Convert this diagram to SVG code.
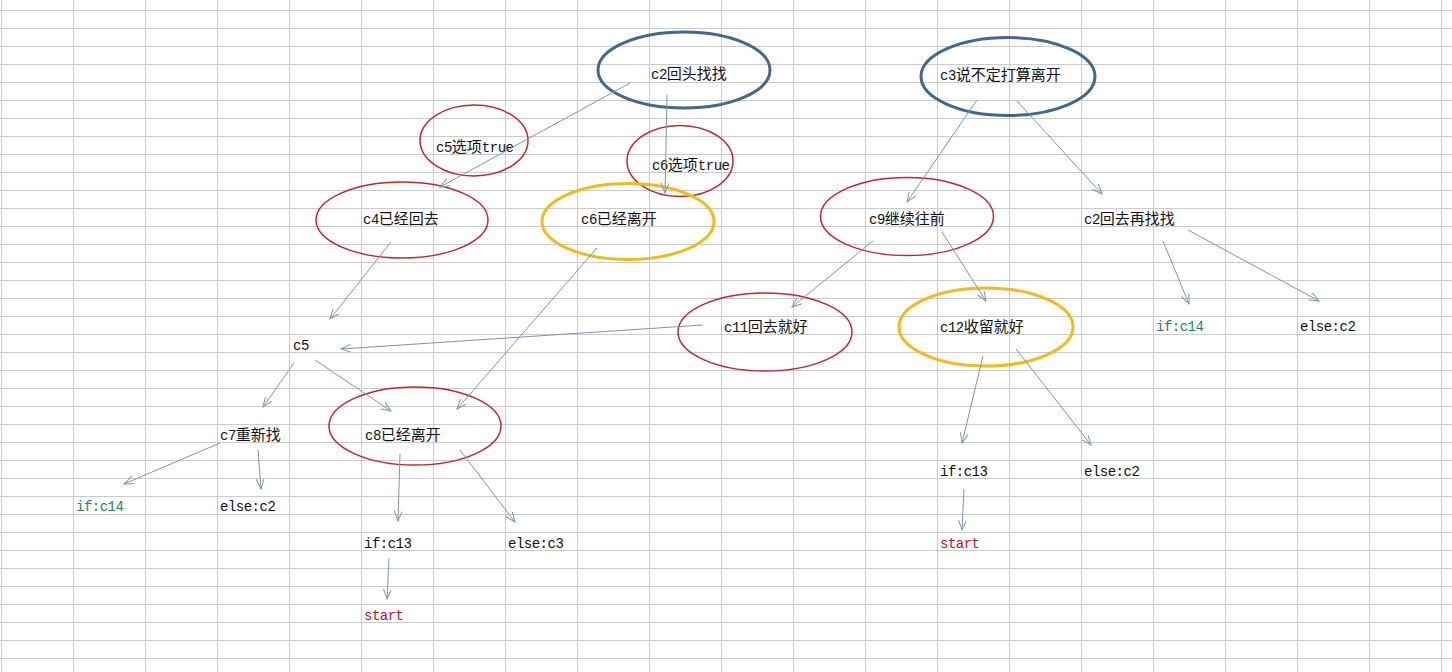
<svg xmlns="http://www.w3.org/2000/svg" width="1452" height="672" viewBox="0 0 1452 672">
<style>
.grid{stroke:#c9ccd1;stroke-width:1;fill:none}
.blue{fill:none;stroke:#44678c;stroke-width:3}
.red{fill:none;stroke:#c1272d;stroke-width:1.5}
.gold{fill:none;stroke:#f2bb1a;stroke-width:3}
.t{font-family:"Noto Sans CJK SC","Noto Sans",sans-serif;font-size:15px;fill:#111}
.m{font-family:"Liberation Mono",monospace;font-size:14px;letter-spacing:-0.5px}
.g{fill:#21875a}
.r{fill:#b3132d}
.c line{stroke:#7d96b0;stroke-width:1;marker-end:url(#ah)}
</style>
<defs>
<marker id="ah" markerUnits="userSpaceOnUse" markerWidth="12" markerHeight="10" refX="10" refY="4" orient="auto">
<path d="M0,0 L10,4 L0,8" fill="none" stroke="#7d96b0" stroke-width="1"/>
</marker>
</defs>
<rect width="1452" height="672" fill="#ffffff"/>
<g id="grid" class="grid">
<path d="M1.5,0V672M73.5,0V672M145.5,0V672M217.5,0V672M289.5,0V672M361.5,0V672M433.5,0V672M505.5,0V672M577.5,0V672M649.5,0V672M721.5,0V672M793.5,0V672M865.5,0V672M937.5,0V672M1009.5,0V672M1081.5,0V672M1153.5,0V672M1225.5,0V672M1297.5,0V672M1369.5,0V672M1441.5,0V672"/>
<path d="M0,10.5H1452M0,28.5H1452M0,46.5H1452M0,64.5H1452M0,82.5H1452M0,100.5H1452M0,118.5H1452M0,136.5H1452M0,154.5H1452M0,172.5H1452M0,190.5H1452M0,208.5H1452M0,226.5H1452M0,244.5H1452M0,262.5H1452M0,280.5H1452M0,298.5H1452M0,316.5H1452M0,334.5H1452M0,352.5H1452M0,370.5H1452M0,388.5H1452M0,406.5H1452M0,424.5H1452M0,442.5H1452M0,460.5H1452M0,478.5H1452M0,496.5H1452M0,514.5H1452M0,532.5H1452M0,550.5H1452M0,568.5H1452M0,586.5H1452M0,604.5H1452M0,622.5H1452M0,640.5H1452M0,658.5H1452"/>
</g>
<g id="n_c2">
<ellipse class="blue" cx="684" cy="70" rx="86" ry="38"/>
<text class="t" x="651" y="79"><tspan class="m">c2</tspan>回头找找</text>
</g>
<g id="n_c5opt">
<ellipse class="red" cx="474" cy="140.5" rx="54" ry="35.5"/>
<text class="t" x="436" y="152"><tspan class="m">c5</tspan>选项<tspan class="m">true</tspan></text>
</g>
<g id="n_c6opt">
<ellipse class="red" cx="680" cy="161" rx="53" ry="35.5"/>
<text class="t" x="652" y="170"><tspan class="m">c6</tspan>选项<tspan class="m">true</tspan></text>
</g>
<g id="n_c4">
<ellipse class="red" cx="402" cy="220" rx="86" ry="38"/>
<text class="t" x="363" y="224"><tspan class="m">c4</tspan>已经回去</text>
</g>
<g id="n_c6">
<ellipse class="gold" cx="628" cy="221.5" rx="86" ry="38"/>
<text class="t" x="581" y="224"><tspan class="m">c6</tspan>已经离开</text>
</g>
<g id="n_c3">
<ellipse class="blue" cx="1008" cy="76.5" rx="87" ry="39"/>
<text class="t" x="940" y="80"><tspan class="m">c3</tspan>说不定打算离开</text>
</g>
<g id="n_c9">
<ellipse class="red" cx="907" cy="216.5" rx="86.5" ry="39"/>
<text class="t" x="869" y="224"><tspan class="m">c9</tspan>继续往前</text>
</g>
<g id="n_c2b">
<text class="t" x="1084" y="224"><tspan class="m">c2</tspan>回去再找找</text>
</g>
<g id="n_c11">
<ellipse class="red" cx="765" cy="332" rx="87" ry="39"/>
<text class="t" x="724" y="332"><tspan class="m">c11</tspan>回去就好</text>
</g>
<g id="n_c12">
<ellipse class="gold" cx="986" cy="327" rx="87" ry="39"/>
<text class="t" x="940" y="332"><tspan class="m">c12</tspan>收留就好</text>
</g>
<g id="n_c8">
<ellipse class="red" cx="415" cy="426" rx="86" ry="39"/>
<text class="t" x="365" y="440"><tspan class="m">c8</tspan>已经离开</text>
</g>
<g id="n_c5">
<text class="t m" x="293" y="350">c5</text>
</g>
<g id="n_c7">
<text class="t" x="220" y="440"><tspan class="m">c7</tspan>重新找</text>
</g>
<g id="n_if14a"><text class="t m g" x="76" y="511">if:c14</text></g>
<g id="n_else2a"><text class="t m" x="220" y="511">else:c2</text></g>
<g id="n_if13a"><text class="t m" x="364" y="548">if:c13</text></g>
<g id="n_else3"><text class="t m" x="508" y="548">else:c3</text></g>
<g id="n_starta"><text class="t m r" x="364" y="620">start</text></g>
<g id="n_if14b"><text class="t m g" x="1156" y="331">if:c14</text></g>
<g id="n_else2b"><text class="t m" x="1300" y="331">else:c2</text></g>
<g id="n_if13b"><text class="t m" x="940" y="476">if:c13</text></g>
<g id="n_else2c"><text class="t m" x="1084" y="476">else:c2</text></g>
<g id="n_startb"><text class="t m r" x="940" y="548">start</text></g>
<g id="connectors" class="c">
<line x1="630" y1="83" x2="440" y2="187"/>
<line x1="667" y1="95" x2="665" y2="193"/>
<line x1="391" y1="242" x2="330" y2="319"/>
<line x1="597" y1="248" x2="457" y2="409"/>
<line x1="703" y1="325" x2="341" y2="349"/>
<line x1="294" y1="363" x2="263" y2="407"/>
<line x1="315" y1="360" x2="391" y2="411"/>
<line x1="220" y1="443" x2="124" y2="484"/>
<line x1="258" y1="450" x2="261" y2="489"/>
<line x1="400" y1="454" x2="398" y2="521"/>
<line x1="460" y1="450" x2="515" y2="522"/>
<line x1="389" y1="558" x2="387" y2="599"/>
<line x1="977" y1="100" x2="907" y2="202"/>
<line x1="1017" y1="101" x2="1102" y2="194"/>
<line x1="873" y1="241" x2="792" y2="307"/>
<line x1="942" y1="232" x2="986" y2="301"/>
<line x1="983" y1="356" x2="962" y2="443"/>
<line x1="1016" y1="349" x2="1091" y2="445"/>
<line x1="964" y1="489" x2="962" y2="530"/>
<line x1="1163" y1="241" x2="1189" y2="304"/>
<line x1="1188" y1="230" x2="1319" y2="301"/>
</g>
</svg>
